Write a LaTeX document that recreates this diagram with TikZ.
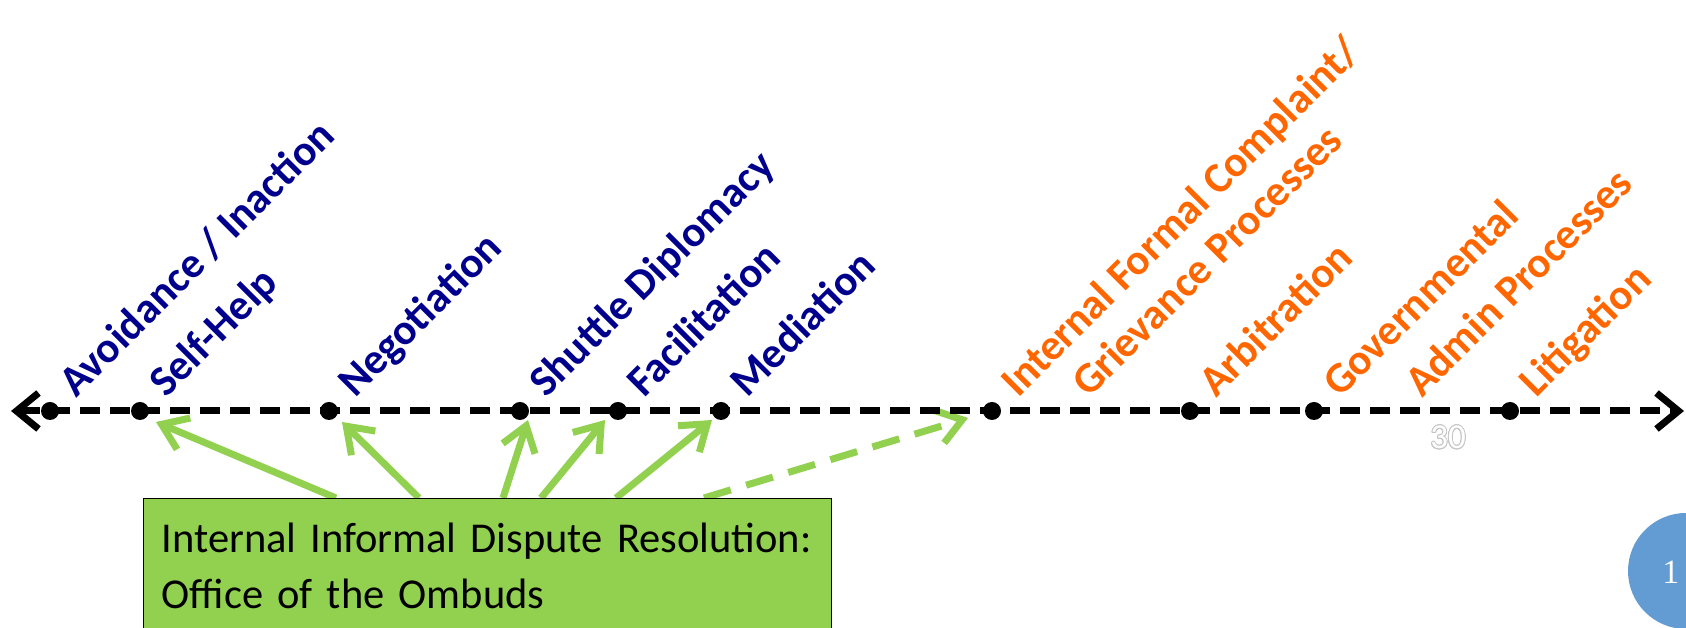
\documentclass[tikz,border=0pt]{standalone}
\usepackage{fontspec}
\usepackage{contour}
\setmainfont{Carlito}
\newfontfamily\pagefont{Liberation Serif}
\usetikzlibrary{arrows.meta,calc,backgrounds}
\definecolor{informal}{RGB}{0,0,140}
\definecolor{formal}{RGB}{255,102,0}
\definecolor{ombgreen}{RGB}{146,208,80}
\definecolor{pageblue}{RGB}{99,155,211}
\contourlength{0.9pt}
\tikzset{dot/.style={circle, fill=black, inner sep=0pt, minimum size=18pt},
	informal_lbl/.style={rotate=45, anchor=base west, inner sep=0pt, text=informal, font=\fontsize{43}{52}\selectfont\bfseries},
	formal_lbl/.style={informal_lbl, text=formal},
	ombuds_box/.style={draw=black, line width=1.2pt, fill=ombgreen, anchor=north west, align=left, text width=652pt, inner xsep=18pt, inner ysep=24pt, font=\fontsize{42.5}{56}\selectfont},
	green_arrow/.style={ombgreen, line width=7pt, -{Straight Barb[length=24pt,width=34pt]}}
}

\begin{document}
\begin{tikzpicture}[x=1pt, y=1pt]
	\useasboundingbox (0,0) rectangle (1686,628);
	\node[dot] (d1) at (50,217) {};
	\node[dot] (d2) at (140,217) {};
	\node[dot] (d3) at (329,217) {};
	\node[dot] (d4) at (520,217) {};
	\node[dot] (d5) at (618,217) {};
	\node[dot] (d6) at (721,217) {};
	\node[dot] (d7) at (992,217) {};
	\node[dot] (d8) at (1190,217) {};
	\node[dot] (d9) at (1314,217) {};
	\node[dot] (d10) at (1510,217) {};
	\coordinate (axl) at (11,217);
	\coordinate (axr) at (1684,217);
	
	% draw axis
	\draw[line width=7pt, dash pattern=on 20pt off 10pt, {Straight Barb[length=22pt,width=36pt]}-{Straight Barb[length=22pt,width=36pt]}] (axl) -- (axr);
	
	% labels
	\node[informal_lbl] (avoid) at ($(d1)+(26,12)$) {Avoidance / Inaction};
	\node[informal_lbl] (self) at ($(d2)+(26,12)$) {Self-Help};
	\node[informal_lbl] (nego) at ($(d3)+(26,12)$) {Negotiation};
	\node[informal_lbl] (shuttle) at ($(d4)+(26,12)$) {Shuttle Diplomacy};
	\node[informal_lbl] (facil) at ($(d5)+(26,12)$) {Facilitation};
	\node[informal_lbl] (media) at ($(d6)+(26,12)$) {Mediation};
	\node[formal_lbl] (complaint) at ($(d7)+(26,12)$) {Internal Formal Complaint/};
	\node[formal_lbl] (grievance) at ($(d7)+(97,12)$) {Grievance Processes};
	\node[formal_lbl] (arbit) at ($(d8)+(26,12)$) {Arbitration};
	\node[formal_lbl] (govt) at ($(d9)+(26,12)$) {Governmental};
	\node[formal_lbl] (admin) at ($(d9)+(108,12)$) {Admin Processes};
	\node[formal_lbl] (litig) at ($(d10)+(26,12)$) {Litigation};
	\node[font=\fontsize{35}{40}\selectfont] (thirty) at (1448,190) {\contour{gray!45}{\textcolor{white}{30}}};
	
	% ombuds box
	\node[ombuds_box] (ombuds) at (143,130) {Internal Informal Dispute Resolution:\\Office of the Ombuds};
	
	\coordinate (t2) at (156,206);
	\coordinate (t3) at (342,206);
	\coordinate (t4) at (528,208);
	\coordinate (t5) at (605,208);
	\coordinate (t6) at (712,208);
	\coordinate (t7) at (968,210);
	
	% draw arrows
	\begin{scope}[on background layer]
		\draw[green_arrow] ($(ombuds.north west)+(193,0)$) -- (t2);
		\draw[green_arrow] ($(ombuds.north west)+(276,0)$) -- (t3);
		\draw[green_arrow] ($(ombuds.north west)+(360,0)$) -- (t4);
		\draw[green_arrow] ($(ombuds.north west)+(398,0)$) -- (t5);
		\draw[green_arrow] ($(ombuds.north west)+(473,0)$) -- (t6);
		\draw[green_arrow, dash pattern=on 28pt off 16pt] ($(ombuds.north west)+(561,0)$) -- (t7);
	\end{scope}
	
	% page number
	\node[circle, fill=pageblue, minimum size=116pt] (page) at (1686,57) {};
	\node[text=white, font=\pagefont\fontsize{34}{40}\selectfont, anchor=east] (pagenum) at ($(page.center)+(-3,-1)$) {1};
\end{tikzpicture}
\end{document}
